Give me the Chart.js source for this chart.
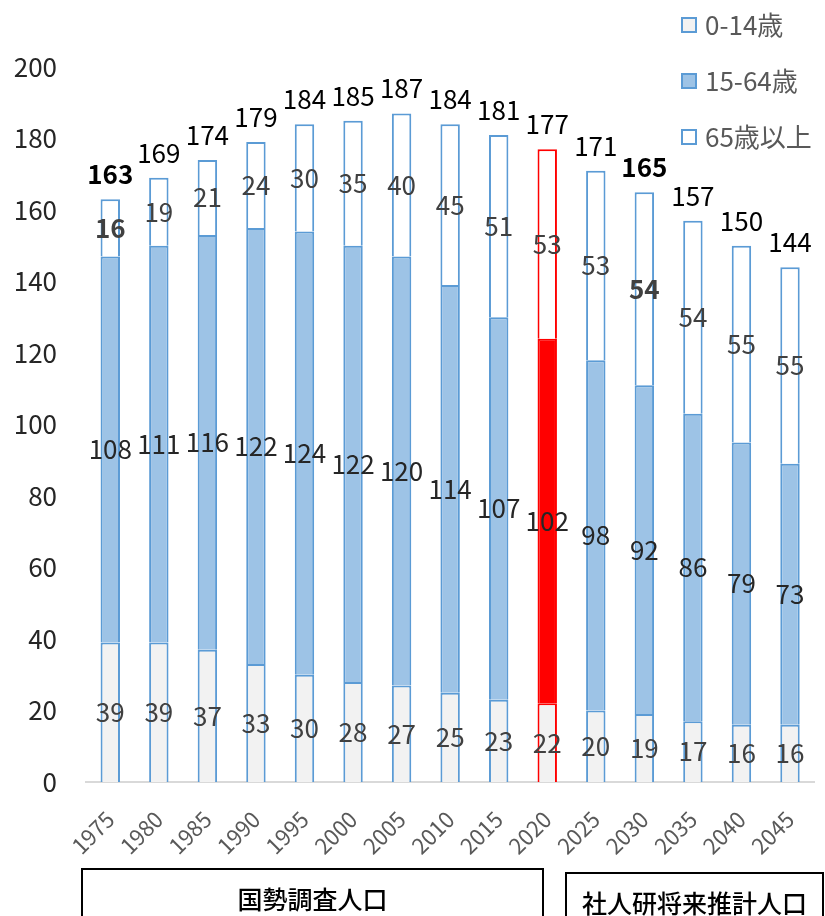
<!DOCTYPE html>
<html lang="ja">
<head>
<meta charset="UTF-8">
<title>年齢3区分別人口の推移</title>
<script src="https://cdn.jsdelivr.net/npm/chart.js"></script>
<style>
    html, body { margin: 0; padding: 0; background: #fff; overflow: hidden; }
    #wrap { position: relative; width: 825px; height: 916px; }
    .note {
        position: absolute;
        box-sizing: border-box;
        height: 60px;
        border: 2px solid #000;
        font: 500 25px "Noto Sans CJK JP", sans-serif;
        text-align: center;
        line-height: 56px;
        color: #000;
    }
</style>
</head>
<body>
<div id="wrap">
    <canvas id="popChart" width="825" height="916"></canvas>
    <div class="note" style="left:81px; top:868px; width:463px;">国勢調査人口</div>
    <div class="note" style="left:565px; top:872px; width:259px;">社人研将来推計人口</div>
</div>

<script>
    // categories and values
    const years = ['1975', '1980', '1985', '1990', '1995', '2000', '2005', '2010',
                   '2015', '2020', '2025', '2030', '2035', '2040', '2045'];
    const age0to14 = [39, 39, 37, 33, 30, 28, 27, 25, 23, 22, 20, 19, 17, 16, 16];
    const age15to64 = [108, 111, 116, 122, 124, 122, 120, 114, 107, 102, 98, 92, 86, 79, 73];
    const age65plus = [16, 19, 21, 24, 30, 35, 40, 45, 51, 53, 53, 54, 54, 55, 55];
    const seriesNames = ['0-14歳', '15-64歳', '65歳以上'];
    const highlightYear = '2020';
    const boldYears = ['1975', '2030'];

    const FONT = '"Noto Sans CJK JP", "Noto Sans", sans-serif';
    const BLUE_LINE = '#5B9BD5';
    const RED = '#FF0000';

    const totals = years.map((y, i) => age0to14[i] + age15to64[i] + age65plus[i]);

    function perBar(normal, special) {
        return years.map(y => y === highlightYear ? special : normal);
    }

    // draws the value in each segment and the total above each bar
    const valueLabels = {
        id: 'valueLabels',
        afterDatasetsDraw(chart) {
            const ctx = chart.ctx;
            ctx.save();
            ctx.textAlign = 'center';
            ctx.textBaseline = 'middle';
            chart.data.datasets.forEach((ds, i) => {
                const meta = chart.getDatasetMeta(i);
                meta.data.forEach((bar, j) => {
                    const bold = i === 2 && boldYears.includes(years[j]);
                    ctx.font = (bold ? '700 ' : '400 ') + '26px ' + FONT;
                    ctx.fillStyle = i === 1 ? '#262626' : '#404040';
                    ctx.fillText(ds.data[j], bar.x, (bar.y + bar.base) / 2);
                });
            });
            const topMeta = chart.getDatasetMeta(2);
            topMeta.data.forEach((bar, j) => {
                const bold = boldYears.includes(years[j]);
                ctx.font = (bold ? '700 ' : '400 ') + '26px ' + FONT;
                ctx.fillStyle = '#000';
                ctx.fillText(totals[j], bar.x, bar.y - 25);
            });
            ctx.restore();
        }
    };

    // vertical legend in the top right corner
    const cornerLegend = {
        id: 'cornerLegend',
        afterDraw(chart) {
            const ctx = chart.ctx;
            ctx.save();
            ctx.font = '26px ' + FONT;
            ctx.textBaseline = 'middle';
            ctx.textAlign = 'left';
            chart.data.datasets.forEach((ds, i) => {
                const cy = 25 + i * 56;
                ctx.fillStyle = ds.legendFill;
                ctx.fillRect(682, cy - 7, 14, 14);
                ctx.strokeStyle = BLUE_LINE;
                ctx.lineWidth = 2;
                ctx.strokeRect(682, cy - 7, 14, 14);
                ctx.fillStyle = '#595959';
                ctx.fillText(ds.label, 705, cy);
            });
            ctx.restore();
        }
    };

    const ctx = document.getElementById('popChart').getContext('2d');
    new Chart(ctx, {
        type: 'bar',
        data: {
            labels: years,
            datasets: [{
                label: seriesNames[0],
                data: age0to14,
                backgroundColor: perBar('#F2F2F2', '#F2F2F2'),
                borderColor: perBar(BLUE_LINE, RED),
                borderWidth: 2,
                legendFill: '#F2F2F2'
            }, {
                label: seriesNames[1],
                data: age15to64,
                backgroundColor: perBar('#9DC3E6', RED),
                borderColor: perBar(BLUE_LINE, RED),
                borderWidth: 2,
                legendFill: '#9DC3E6'
            }, {
                label: seriesNames[2],
                data: age65plus,
                backgroundColor: perBar('#FFFFFF', '#FFFFFF'),
                borderColor: perBar(BLUE_LINE, RED),
                borderWidth: 2,
                legendFill: '#FFFFFF'
            }]
        },
        options: {
            responsive: false,
            animation: false,
            categoryPercentage: 1,
            barPercentage: 0.4,
            layout: { padding: { top: 67, right: 10, left: 0, bottom: 0 } },
            plugins: {
                legend: { display: false },
                tooltip: { enabled: false }
            },
            scales: {
                x: {
                    stacked: true,
                    grid: { display: false },
                    border: { display: true, color: '#D9D9D9', width: 2 },
                    ticks: {
                        minRotation: 45,
                        maxRotation: 45,
                        padding: 16,
                        color: '#595959',
                        font: { family: FONT, size: 22 }
                    },
                    afterFit(scale) { scale.height = 134; }
                },
                y: {
                    stacked: true,
                    min: 0,
                    max: 200,
                    grid: { display: false, drawTicks: false },
                    border: { display: false },
                    ticks: {
                        stepSize: 20,
                        padding: 29,
                        color: '#262626',
                        font: { family: FONT, size: 26 }
                    },
                    afterFit(scale) { scale.width = 86; }
                }
            }
        },
        plugins: [valueLabels, cornerLegend]
    });
</script>
</body>
</html>
